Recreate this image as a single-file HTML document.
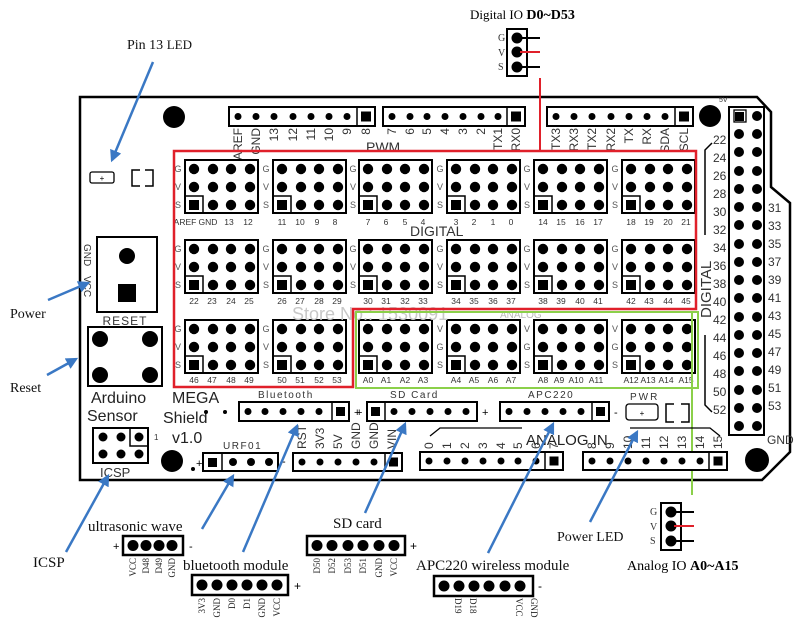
<!DOCTYPE html>
<html><head><meta charset="utf-8"><style>
html,body{margin:0;padding:0;background:#fff;}
svg{display:block;}
.s{font-family:"Liberation Sans",sans-serif;}
.r{font-family:"Liberation Serif",serif;}
</style></head><body>
<svg width="800" height="623" viewBox="0 0 800 623" xmlns="http://www.w3.org/2000/svg">
<defs>
<g id="blk">
<rect x="0" y="0" width="73" height="53" fill="#fff" stroke="#000" stroke-width="2"/>
<g fill="#000">
<circle cx="9" cy="9" r="5.2"/><circle cx="28" cy="9" r="5.2"/><circle cx="46" cy="9" r="5.2"/><circle cx="65" cy="9" r="5.2"/>
<circle cx="9" cy="27" r="5.2"/><circle cx="28" cy="27" r="5.2"/><circle cx="46" cy="27" r="5.2"/><circle cx="65" cy="27" r="5.2"/>
<circle cx="28" cy="45" r="5.2"/><circle cx="46" cy="45" r="5.2"/><circle cx="65" cy="45" r="5.2"/>
<rect x="4" y="40" width="10" height="10"/>
</g>
<path d="M0 36 H18 V53" fill="none" stroke="#000" stroke-width="1.5"/>
</g>
<marker id="ah2" viewBox="0 0 10 10" markerWidth="12" markerHeight="12" refX="8" refY="5" orient="auto" markerUnits="userSpaceOnUse"><path d="M0,0 L10,5 L0,10 z" fill="#3a78c4"/></marker>
</defs>

<path d="M80 97 H757 L771 112 V187 L790 203 V452 L762 480 H80 Z" fill="none" stroke="#000" stroke-width="2.5"/>

<circle cx="174" cy="117" r="11" fill="#000"/>
<circle cx="710" cy="116" r="11" fill="#000"/>
<circle cx="172" cy="461" r="11" fill="#000"/>
<circle cx="757" cy="460" r="12" fill="#000"/>

<g stroke="#000" stroke-width="2" fill="#fff">
<rect x="229" y="107" width="146" height="19"/>
<rect x="383" y="107" width="142" height="19"/>
<rect x="547" y="107" width="146" height="19"/>
</g>
<g stroke="#000" stroke-width="1.5"><line x1="357" y1="107" x2="357" y2="126"/><line x1="507" y1="107" x2="507" y2="126"/><line x1="675" y1="107" x2="675" y2="126"/></g>
<g fill="#000">
<circle cx="238" cy="116.5" r="3.5"/><circle cx="256" cy="116.5" r="3.5"/><circle cx="274" cy="116.5" r="3.5"/><circle cx="293" cy="116.5" r="3.5"/><circle cx="311" cy="116.5" r="3.5"/><circle cx="329" cy="116.5" r="3.5"/><circle cx="347" cy="116.5" r="3.5"/><rect x="361" y="111.5" width="10" height="10"/>
<circle cx="392" cy="116.5" r="3.5"/><circle cx="410" cy="116.5" r="3.5"/><circle cx="427" cy="116.5" r="3.5"/><circle cx="445" cy="116.5" r="3.5"/><circle cx="463" cy="116.5" r="3.5"/><circle cx="481" cy="116.5" r="3.5"/><circle cx="498" cy="116.5" r="3.5"/><rect x="511" y="111.5" width="10" height="10"/>
<circle cx="556" cy="116.5" r="3.5"/><circle cx="574" cy="116.5" r="3.5"/><circle cx="592" cy="116.5" r="3.5"/><circle cx="611" cy="116.5" r="3.5"/><circle cx="629" cy="116.5" r="3.5"/><circle cx="647" cy="116.5" r="3.5"/><circle cx="665" cy="116.5" r="3.5"/><rect x="679" y="111.5" width="10" height="10"/>
</g>
<g class="s" font-size="12" fill="#333" text-anchor="end">
<text transform="translate(242,128) rotate(-90)">AREF</text>
<text transform="translate(260,128) rotate(-90)">GND</text>
<text transform="translate(278,128) rotate(-90)">13</text>
<text transform="translate(297,128) rotate(-90)">12</text>
<text transform="translate(315,128) rotate(-90)">11</text>
<text transform="translate(333,128) rotate(-90)">10</text>
<text transform="translate(351,128) rotate(-90)">9</text>
<text transform="translate(370,128) rotate(-90)">8</text>
<text transform="translate(396,128) rotate(-90)">7</text>
<text transform="translate(414,128) rotate(-90)">6</text>
<text transform="translate(431,128) rotate(-90)">5</text>
<text transform="translate(449,128) rotate(-90)">4</text>
<text transform="translate(467,128) rotate(-90)">3</text>
<text transform="translate(485,128) rotate(-90)">2</text>
<text transform="translate(502,128) rotate(-90)">TX1</text>
<text transform="translate(520,128) rotate(-90)">RX0</text>
<text transform="translate(560,128) rotate(-90)">TX3</text>
<text transform="translate(578,128) rotate(-90)">RX3</text>
<text transform="translate(596,128) rotate(-90)">TX2</text>
<text transform="translate(615,128) rotate(-90)">RX2</text>
<text transform="translate(633,128) rotate(-90)">TX</text>
<text transform="translate(651,128) rotate(-90)">RX</text>
<text transform="translate(669,128) rotate(-90)">SDA</text>
<text transform="translate(688,128) rotate(-90)">SCL</text>
</g>
<text class="s" x="366" y="152" font-size="14" fill="#333">PWM</text>

<use href="#blk" x="185" y="160"/><use href="#blk" x="273" y="160"/><use href="#blk" x="359" y="160"/><use href="#blk" x="447" y="160"/><use href="#blk" x="534" y="160"/><use href="#blk" x="622" y="160"/>
<use href="#blk" x="185" y="240"/><use href="#blk" x="273" y="240"/><use href="#blk" x="359" y="240"/><use href="#blk" x="447" y="240"/><use href="#blk" x="534" y="240"/><use href="#blk" x="622" y="240"/>
<use href="#blk" x="185" y="320"/><use href="#blk" x="273" y="320"/><use href="#blk" x="359" y="320"/><use href="#blk" x="447" y="320"/><use href="#blk" x="534" y="320"/><use href="#blk" x="622" y="320"/>

<g class="s" font-size="9" fill="#555" text-anchor="middle">
<text x="178" y="172">G</text><text x="178" y="190">V</text><text x="178" y="208">S</text>
<text x="266" y="172">G</text><text x="266" y="190">V</text><text x="266" y="208">S</text>
<text x="353" y="172">G</text><text x="353" y="190">V</text><text x="353" y="208">S</text>
<text x="440" y="172">G</text><text x="440" y="190">V</text><text x="440" y="208">S</text>
<text x="527" y="172">G</text><text x="527" y="190">V</text><text x="527" y="208">S</text>
<text x="615" y="172">G</text><text x="615" y="190">V</text><text x="615" y="208">S</text>
<text x="178" y="252">G</text><text x="178" y="270">V</text><text x="178" y="288">S</text>
<text x="266" y="252">G</text><text x="266" y="270">V</text><text x="266" y="288">S</text>
<text x="353" y="252">G</text><text x="353" y="270">V</text><text x="353" y="288">S</text>
<text x="440" y="252">G</text><text x="440" y="270">V</text><text x="440" y="288">S</text>
<text x="527" y="252">G</text><text x="527" y="270">V</text><text x="527" y="288">S</text>
<text x="615" y="252">G</text><text x="615" y="270">V</text><text x="615" y="288">S</text>
<text x="178" y="332">G</text><text x="178" y="350">V</text><text x="178" y="368">S</text>
<text x="266" y="332">G</text><text x="266" y="350">V</text><text x="266" y="368">S</text>
<text x="440" y="332">V</text><text x="440" y="350">G</text><text x="440" y="368">S</text>
<text x="527" y="332">V</text><text x="527" y="350">G</text><text x="527" y="368">S</text>
<text x="615" y="332">V</text><text x="615" y="350">G</text><text x="615" y="368">S</text>
</g>
<g class="s" font-size="8.5" fill="#333" text-anchor="middle">
<text x="185" y="225">AREF</text><text x="208" y="225">GND</text><text x="229" y="225">13</text><text x="248" y="225">12</text>
<text x="282" y="225">11</text><text x="300" y="225">10</text><text x="317" y="225">9</text><text x="335" y="225">8</text>
<text x="368" y="225">7</text><text x="386" y="225">6</text><text x="405" y="225">5</text><text x="423" y="225">4</text>
<text x="456" y="225">3</text><text x="474" y="225">2</text><text x="493" y="225">1</text><text x="511" y="225">0</text>
<text x="543" y="225">14</text><text x="561" y="225">15</text><text x="580" y="225">16</text><text x="598" y="225">17</text>
<text x="631" y="225">18</text><text x="649" y="225">19</text><text x="668" y="225">20</text><text x="686" y="225">21</text>
<text x="194" y="304">22</text><text x="212" y="304">23</text><text x="231" y="304">24</text><text x="249" y="304">25</text>
<text x="282" y="304">26</text><text x="300" y="304">27</text><text x="319" y="304">28</text><text x="337" y="304">29</text>
<text x="368" y="304">30</text><text x="386" y="304">31</text><text x="405" y="304">32</text><text x="423" y="304">33</text>
<text x="456" y="304">34</text><text x="474" y="304">35</text><text x="493" y="304">36</text><text x="511" y="304">37</text>
<text x="543" y="304">38</text><text x="561" y="304">39</text><text x="580" y="304">40</text><text x="598" y="304">41</text>
<text x="631" y="304">42</text><text x="649" y="304">43</text><text x="668" y="304">44</text><text x="686" y="304">45</text>
<text x="194" y="383">46</text><text x="212" y="383">47</text><text x="231" y="383">48</text><text x="249" y="383">49</text>
<text x="282" y="383">50</text><text x="300" y="383">51</text><text x="319" y="383">52</text><text x="337" y="383">53</text>
<text x="368" y="383">A0</text><text x="386" y="383">A1</text><text x="405" y="383">A2</text><text x="423" y="383">A3</text>
<text x="456" y="383">A4</text><text x="474" y="383">A5</text><text x="493" y="383">A6</text><text x="511" y="383">A7</text>
<text x="543" y="383">A8</text><text x="559" y="383">A9</text><text x="576" y="383">A10</text><text x="596" y="383">A11</text>
<text x="631" y="383">A12</text><text x="648" y="383">A13</text><text x="666" y="383">A14</text><text x="686" y="383">A15</text>
</g>
<text class="s" x="410" y="236" font-size="14" fill="#333">DIGITAL</text>
<text class="s" x="292" y="320" font-size="18" fill="#c8c8c8">Store No.: 1530091</text>
<text class="s" x="500" y="318" font-size="10" fill="#bbb">ANALOG</text>

<path d="M174 151 H696 V309 H353 V387 H174 Z" fill="none" stroke="#e0202a" stroke-width="2.5"/>
<path d="M356 312 H698 V388 H356 Z" fill="none" stroke="#8bd04a" stroke-width="2"/>
<line x1="692" y1="312" x2="692" y2="495" stroke="#8bd04a" stroke-width="2"/>
<line x1="540" y1="78" x2="540" y2="151" stroke="#e0202a" stroke-width="2"/>

<rect x="729" y="107" width="35" height="328" fill="#fff" stroke="#000" stroke-width="2"/>
<rect x="734" y="110" width="12" height="12" fill="none" stroke="#000" stroke-width="1.3"/>
<rect x="735" y="112" width="9" height="9" fill="#000"/>
<g fill="#000">
<circle cx="757" cy="116" r="5"/>
<circle cx="739" cy="134" r="5"/><circle cx="757" cy="134" r="5"/>
<circle cx="739" cy="152" r="5"/><circle cx="757" cy="152" r="5"/>
<circle cx="739" cy="171" r="5"/><circle cx="757" cy="171" r="5"/>
<circle cx="739" cy="189" r="5"/><circle cx="757" cy="189" r="5"/>
<circle cx="739" cy="207" r="5"/><circle cx="757" cy="207" r="5"/>
<circle cx="739" cy="225" r="5"/><circle cx="757" cy="225" r="5"/>
<circle cx="739" cy="244" r="5"/><circle cx="757" cy="244" r="5"/>
<circle cx="739" cy="262" r="5"/><circle cx="757" cy="262" r="5"/>
<circle cx="739" cy="280" r="5"/><circle cx="757" cy="280" r="5"/>
<circle cx="739" cy="298" r="5"/><circle cx="757" cy="298" r="5"/>
<circle cx="739" cy="317" r="5"/><circle cx="757" cy="317" r="5"/>
<circle cx="739" cy="335" r="5"/><circle cx="757" cy="335" r="5"/>
<circle cx="739" cy="353" r="5"/><circle cx="757" cy="353" r="5"/>
<circle cx="739" cy="371" r="5"/><circle cx="757" cy="371" r="5"/>
<circle cx="739" cy="390" r="5"/><circle cx="757" cy="390" r="5"/>
<circle cx="739" cy="408" r="5"/><circle cx="757" cy="408" r="5"/>
<circle cx="739" cy="426" r="5"/><circle cx="757" cy="426" r="5"/>
</g>
<g class="s" font-size="12" fill="#333">
<text x="713" y="144">22</text><text x="713" y="162">24</text><text x="713" y="180">26</text><text x="713" y="198">28</text>
<text x="713" y="216">30</text><text x="713" y="234">32</text><text x="713" y="252">34</text><text x="713" y="270">36</text>
<text x="713" y="288">38</text><text x="713" y="306">40</text><text x="713" y="324">42</text><text x="713" y="342">44</text>
<text x="713" y="360">46</text><text x="713" y="378">48</text><text x="713" y="396">50</text><text x="713" y="414">52</text>
<text x="768" y="212">31</text><text x="768" y="230">33</text><text x="768" y="248">35</text><text x="768" y="266">37</text>
<text x="768" y="284">39</text><text x="768" y="302">41</text><text x="768" y="320">43</text><text x="768" y="338">45</text>
<text x="768" y="356">47</text><text x="768" y="374">49</text><text x="768" y="392">51</text><text x="768" y="410">53</text>
<text x="767" y="444">GND</text>
<text x="719" y="102" font-size="7">5V</text>
<text transform="translate(711,318) rotate(-90)" font-size="15">DIGITAL</text>
</g>
<path d="M705 235 V150 L712 143" fill="none" stroke="#000" stroke-width="1.5"/>
<path d="M705 335 V405 L712 412" fill="none" stroke="#000" stroke-width="1.5"/>

<rect x="90" y="172" width="24" height="11" rx="2" fill="#fff" stroke="#000" stroke-width="1.3"/>
<text class="s" x="102" y="181" font-size="8" text-anchor="middle">+</text>
<path d="M140 170 H132 V186 H140 M145 170 H153 V186 H145" fill="none" stroke="#000" stroke-width="1.5"/>
<rect x="97" y="237" width="60" height="75" fill="#fff" stroke="#000" stroke-width="2"/>
<circle cx="127" cy="256" r="8" fill="#000"/>
<rect x="118" y="284" width="18" height="18" fill="#000"/>
<g class="s" font-size="10" fill="#333">
<text transform="translate(84,244) rotate(90)">GND</text>
<text transform="translate(84,276) rotate(90)">VCC</text>
</g>
<text class="s" x="125" y="325" font-size="12" fill="#333" text-anchor="middle" letter-spacing="1">RESET</text>
<rect x="88" y="327" width="74" height="59" fill="#fff" stroke="#000" stroke-width="2"/>
<g fill="#000"><circle cx="100" cy="339" r="8"/><circle cx="150" cy="339" r="8"/><circle cx="100" cy="375" r="8"/><circle cx="150" cy="375" r="8"/></g>
<g class="s" font-size="16" fill="#222">
<text x="91" y="403">Arduino</text><text x="87" y="421">Sensor</text>
<text x="172" y="403">MEGA</text><text x="163" y="423">Shield</text><text x="172" y="443">v1.0</text>
</g>
<rect x="93" y="428" width="55" height="35" fill="#fff" stroke="#000" stroke-width="2"/>
<path d="M130 428 V446 H148" fill="none" stroke="#000" stroke-width="1.5"/>
<g fill="#000"><circle cx="103" cy="437" r="4.5"/><circle cx="121" cy="437" r="4.5"/><circle cx="139" cy="437" r="4.5"/><circle cx="103" cy="454" r="4.5"/><circle cx="121" cy="454" r="4.5"/><circle cx="139" cy="454" r="4.5"/></g>
<text class="s" x="154" y="440" font-size="8" fill="#333">1</text>
<text class="s" x="100" y="477" font-size="13" fill="#333">ICSP</text>

<text class="s" x="258" y="398" font-size="10" fill="#333" letter-spacing="1.5">Bluetooth</text>
<circle cx="206" cy="412" r="2" fill="#000"/><circle cx="225" cy="412" r="2" fill="#000"/>
<rect x="239" y="402" width="110" height="19" fill="#fff" stroke="#000" stroke-width="2"/>
<line x1="332" y1="402" x2="332" y2="421" stroke="#000" stroke-width="1.5"/>
<g fill="#000"><circle cx="248" cy="411.5" r="3.5"/><circle cx="265" cy="411.5" r="3.5"/><circle cx="283" cy="411.5" r="3.5"/><circle cx="301" cy="411.5" r="3.5"/><circle cx="319" cy="411.5" r="3.5"/><rect x="336" y="407" width="9" height="9"/></g>
<text class="s" x="354" y="416" font-size="11">+</text>
<text class="s" x="223" y="449" font-size="10" fill="#333" letter-spacing="1.5">URF01</text>
<text class="s" x="196" y="467" font-size="11">+</text>
<circle cx="193" cy="469" r="2" fill="#000"/>
<rect x="203" y="453" width="75" height="18" fill="#fff" stroke="#000" stroke-width="2"/>
<line x1="222" y1="453" x2="222" y2="471" stroke="#000" stroke-width="1.5"/>
<g fill="#000"><rect x="208" y="458" width="9" height="9"/><circle cx="233" cy="462" r="4"/><circle cx="251" cy="462" r="4"/><circle cx="269" cy="462" r="4"/></g>
<text class="s" x="282" y="465" font-size="11">-</text>
<rect x="293" y="453" width="109" height="18" fill="#fff" stroke="#000" stroke-width="2"/>
<line x1="385" y1="453" x2="385" y2="471" stroke="#000" stroke-width="1.5"/>
<g fill="#000"><circle cx="302" cy="462" r="3.5"/><circle cx="320" cy="462" r="3.5"/><circle cx="338" cy="462" r="3.5"/><circle cx="356" cy="462" r="3.5"/><circle cx="374" cy="462" r="3.5"/><rect x="389" y="457.5" width="9" height="9"/></g>
<g class="s" font-size="12" fill="#333" text-anchor="start">
<text transform="translate(306,449) rotate(-90)">RST</text>
<text transform="translate(324,449) rotate(-90)">3V3</text>
<text transform="translate(342,449) rotate(-90)">5V</text>
<text transform="translate(360,449) rotate(-90)">GND</text>
<text transform="translate(378,449) rotate(-90)">GND</text>
<text transform="translate(396,449) rotate(-90)">VIN</text>
</g>
<text class="s" x="390" y="398" font-size="10" fill="#333" letter-spacing="1.5">SD Card</text>
<text class="s" x="356" y="416" font-size="11">+</text>
<rect x="367" y="402" width="110" height="19" fill="#fff" stroke="#000" stroke-width="2"/>
<line x1="385" y1="402" x2="385" y2="421" stroke="#000" stroke-width="1.5"/>
<g fill="#000"><rect x="371" y="407" width="9" height="9"/><circle cx="394" cy="411.5" r="3.5"/><circle cx="412" cy="411.5" r="3.5"/><circle cx="430" cy="411.5" r="3.5"/><circle cx="448" cy="411.5" r="3.5"/><circle cx="466" cy="411.5" r="3.5"/></g>
<text class="s" x="482" y="416" font-size="11">+</text>
<text class="s" x="528" y="398" font-size="10" fill="#333" letter-spacing="1.5">APC220</text>
<rect x="500" y="402" width="109" height="19" fill="#fff" stroke="#000" stroke-width="2"/>
<line x1="592" y1="402" x2="592" y2="421" stroke="#000" stroke-width="1.5"/>
<g fill="#000"><circle cx="509" cy="411.5" r="3.5"/><circle cx="527" cy="411.5" r="3.5"/><circle cx="545" cy="411.5" r="3.5"/><circle cx="563" cy="411.5" r="3.5"/><circle cx="581" cy="411.5" r="3.5"/><rect x="596" y="407" width="9" height="9"/></g>
<text class="s" x="614" y="416" font-size="11">-</text>
<text class="s" x="630" y="400" font-size="10" fill="#333" letter-spacing="2">PWR</text>
<rect x="626" y="404" width="32" height="16" rx="3" fill="#fff" stroke="#000" stroke-width="1.3"/>
<text class="s" x="642" y="416" font-size="8" text-anchor="middle">+</text>
<path d="M674 404 H666 V422 H674 M681 404 H689 V422 H681" fill="none" stroke="#000" stroke-width="1.5"/>
<text class="s" x="526" y="445" font-size="15" fill="#222">ANALOG IN</text>
<path d="M430 436 L440 428 H522 M630 428 H710 L720 436" fill="none" stroke="#000" stroke-width="1.3"/>
<rect x="420" y="452" width="143" height="18" fill="#fff" stroke="#000" stroke-width="2"/>
<line x1="545" y1="452" x2="545" y2="470" stroke="#000" stroke-width="1.5"/>
<rect x="583" y="452" width="144" height="18" fill="#fff" stroke="#000" stroke-width="2"/>
<line x1="709" y1="452" x2="709" y2="470" stroke="#000" stroke-width="1.5"/>
<g fill="#000">
<circle cx="429" cy="461" r="3.5"/><circle cx="447" cy="461" r="3.5"/><circle cx="465" cy="461" r="3.5"/><circle cx="483" cy="461" r="3.5"/><circle cx="501" cy="461" r="3.5"/><circle cx="518" cy="461" r="3.5"/><circle cx="536" cy="461" r="3.5"/><rect x="549.5" y="456.5" width="9" height="9"/>
<circle cx="592" cy="461" r="3.5"/><circle cx="610" cy="461" r="3.5"/><circle cx="628" cy="461" r="3.5"/><circle cx="646" cy="461" r="3.5"/><circle cx="664" cy="461" r="3.5"/><circle cx="682" cy="461" r="3.5"/><circle cx="700" cy="461" r="3.5"/><rect x="713.5" y="456.5" width="9" height="9"/>
</g>
<g class="s" font-size="12" fill="#333" text-anchor="start">
<text transform="translate(433,449) rotate(-90)">0</text><text transform="translate(451,449) rotate(-90)">1</text><text transform="translate(469,449) rotate(-90)">2</text><text transform="translate(487,449) rotate(-90)">3</text><text transform="translate(505,449) rotate(-90)">4</text><text transform="translate(522,449) rotate(-90)">5</text><text transform="translate(540,449) rotate(-90)">6</text><text transform="translate(558,449) rotate(-90)">7</text>
<text transform="translate(596,449) rotate(-90)">8</text><text transform="translate(614,449) rotate(-90)">9</text><text transform="translate(632,449) rotate(-90)">10</text><text transform="translate(650,449) rotate(-90)">11</text><text transform="translate(668,449) rotate(-90)">12</text><text transform="translate(686,449) rotate(-90)">13</text><text transform="translate(704,449) rotate(-90)">14</text><text transform="translate(722,449) rotate(-90)">15</text>
</g>

<text class="r" x="470" y="19" font-size="13">Digital IO <tspan font-weight="bold" font-size="14">D0~D53</tspan></text>
<rect x="507" y="29" width="20" height="47" fill="#fff" stroke="#000" stroke-width="2"/>
<g fill="#000"><circle cx="517" cy="38" r="5.5"/><circle cx="517" cy="52" r="5.5"/><circle cx="517" cy="67" r="5.5"/></g>
<line x1="520" y1="38" x2="540" y2="38" stroke="#000" stroke-width="2"/>
<line x1="520" y1="52" x2="540" y2="52" stroke="#e0202a" stroke-width="2"/>
<line x1="520" y1="67" x2="540" y2="67" stroke="#000" stroke-width="2"/>
<g class="r" font-size="10" fill="#333"><text x="498" y="41">G</text><text x="498" y="56">V</text><text x="498" y="70">S</text></g>

<rect x="661" y="503" width="20" height="47" fill="#fff" stroke="#000" stroke-width="2"/>
<g fill="#000"><circle cx="671" cy="512" r="5.5"/><circle cx="671" cy="526" r="5.5"/><circle cx="671" cy="541" r="5.5"/></g>
<line x1="674" y1="512" x2="694" y2="512" stroke="#000" stroke-width="2"/>
<line x1="674" y1="526" x2="694" y2="526" stroke="#e0202a" stroke-width="2"/>
<line x1="674" y1="541" x2="694" y2="541" stroke="#000" stroke-width="2"/>
<g class="r" font-size="10" fill="#333"><text x="650" y="515">G</text><text x="650" y="530">V</text><text x="650" y="544">S</text></g>
<text class="r" x="627" y="570" font-size="14">Analog IO <tspan font-weight="bold">A0~A15</tspan></text>

<g class="r" fill="#111">
<text x="127" y="49" font-size="14">Pin 13 <tspan font-size="13">LED</tspan></text>
<text x="10" y="318" font-size="14">Power</text>
<text x="10" y="392" font-size="14">Reset</text>
<text x="33" y="567" font-size="15">ICSP</text>
<text x="88" y="531" font-size="15">ultrasonic wave</text>
<text x="183" y="570" font-size="15">bluetooth module</text>
<text x="333" y="528" font-size="15">SD card</text>
<text x="416" y="570" font-size="15">APC220 wireless module</text>
<text x="557" y="541" font-size="14">Power LED</text>
</g>
<text class="s" x="113" y="550" font-size="11">+</text>
<rect x="123" y="536" width="60" height="19" fill="#fff" stroke="#000" stroke-width="2.5"/>
<g fill="#000"><circle cx="133" cy="545.5" r="5.5"/><circle cx="146" cy="545.5" r="5.5"/><circle cx="159" cy="545.5" r="5.5"/><circle cx="172" cy="545.5" r="5.5"/></g>
<text class="s" x="189" y="550" font-size="11">-</text>
<g class="r" font-size="9" fill="#222" text-anchor="end">
<text transform="translate(136,558) rotate(-90)">VCC</text><text transform="translate(149,558) rotate(-90)">D48</text><text transform="translate(162,558) rotate(-90)">D49</text><text transform="translate(175,558) rotate(-90)">GND</text>
</g>
<rect x="192" y="575" width="96" height="20" fill="#fff" stroke="#000" stroke-width="2.5"/>
<g fill="#000"><circle cx="202" cy="585" r="5.5"/><circle cx="217" cy="585" r="5.5"/><circle cx="232" cy="585" r="5.5"/><circle cx="247" cy="585" r="5.5"/><circle cx="262" cy="585" r="5.5"/><circle cx="277" cy="585" r="5.5"/></g>
<text class="s" x="294" y="590" font-size="12">+</text>
<g class="r" font-size="9" fill="#222" text-anchor="end">
<text transform="translate(205,598) rotate(-90)">3V3</text><text transform="translate(220,598) rotate(-90)">GND</text><text transform="translate(235,598) rotate(-90)">D0</text><text transform="translate(250,598) rotate(-90)">D1</text><text transform="translate(265,598) rotate(-90)">GND</text><text transform="translate(280,598) rotate(-90)">VCC</text>
</g>
<rect x="307" y="536" width="98" height="19" fill="#fff" stroke="#000" stroke-width="2.5"/>
<g fill="#000"><circle cx="317" cy="545.5" r="5.5"/><circle cx="332" cy="545.5" r="5.5"/><circle cx="348" cy="545.5" r="5.5"/><circle cx="363" cy="545.5" r="5.5"/><circle cx="379" cy="545.5" r="5.5"/><circle cx="394" cy="545.5" r="5.5"/></g>
<text class="s" x="410" y="550" font-size="12">+</text>
<g class="r" font-size="9" fill="#222" text-anchor="end">
<text transform="translate(320,558) rotate(-90)">D50</text><text transform="translate(335,558) rotate(-90)">D52</text><text transform="translate(351,558) rotate(-90)">D53</text><text transform="translate(366,558) rotate(-90)">D51</text><text transform="translate(382,558) rotate(-90)">GND</text><text transform="translate(397,558) rotate(-90)">VCC</text>
</g>
<rect x="434" y="576" width="99" height="20" fill="#fff" stroke="#000" stroke-width="2.5"/>
<g fill="#000"><circle cx="444" cy="586" r="5.5"/><circle cx="459" cy="586" r="5.5"/><circle cx="474" cy="586" r="5.5"/><circle cx="489" cy="586" r="5.5"/><circle cx="505" cy="586" r="5.5"/><circle cx="520" cy="586" r="5.5"/></g>
<text class="s" x="538" y="590" font-size="12">-</text>
<g class="r" font-size="9" fill="#222" text-anchor="start">
<text transform="translate(455,598) rotate(90)">D19</text><text transform="translate(470,598) rotate(90)">D18</text><text transform="translate(516,598) rotate(90)">VCC</text><text transform="translate(531,598) rotate(90)">GND</text>
</g>

<g stroke="#3a78c4" stroke-width="2.5" fill="none" marker-end="url(#ah2)">
<line x1="153" y1="62" x2="112" y2="160"/>
<line x1="48" y1="300" x2="88" y2="283"/>
<line x1="47" y1="375" x2="76" y2="359"/>
<line x1="66" y1="552" x2="108" y2="476"/>
<line x1="202" y1="529" x2="233" y2="476"/>
<line x1="243" y1="552" x2="297" y2="426"/>
<line x1="365" y1="513" x2="405" y2="424"/>
<line x1="488" y1="553" x2="553" y2="424"/>
<line x1="590" y1="522" x2="637" y2="432"/>
</g>
</svg>
</body></html>
